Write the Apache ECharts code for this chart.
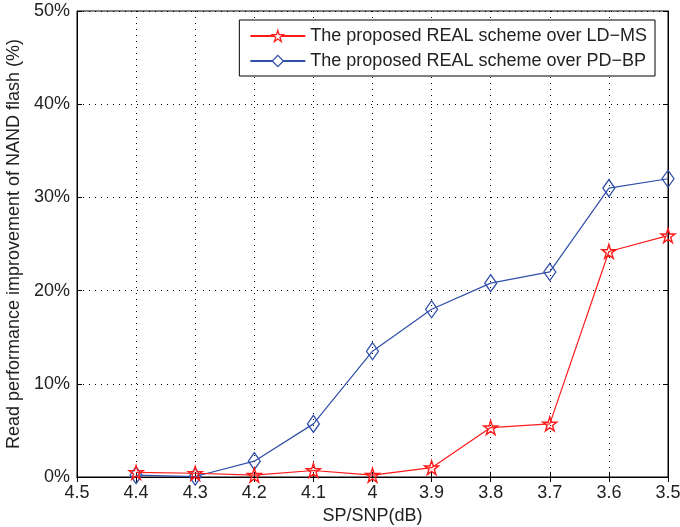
<!DOCTYPE html>
<html><head><meta charset="utf-8">
<script src="https://cdn.jsdelivr.net/npm/echarts@6/dist/echarts.min.js"></script>
<style>html,body{margin:0;padding:0;background:#fff}#c{width:680px;height:527px}</style>
</head><body><div id="c"></div>
<script>
var xValues = [4.4, 4.3, 4.2, 4.1, 4.0, 3.9, 3.8, 3.7, 3.6, 3.5];
var ldms = [0.5, 0.4, 0.2, 0.7, 0.2, 1.0, 5.3, 5.7, 24.2, 25.9];
var pdbp = [0.2, 0.05, 1.7, 5.7, 13.5, 18.0, 20.8, 22.0, 31.0, 32.0];
var seriesNames = ['The proposed REAL scheme over LD\u2212MS', 'The proposed REAL scheme over PD\u2212BP'];
var xTitle = 'SP/SNP(dB)';
var yTitle = 'Read performance improvement of NAND flash (%)';

var font = 'Liberation Sans, Arial, Helvetica, sans-serif';
var red = '#ff1a1a', blue = '#2f4fa8';
var star = 'path://M50,0 L61.8,36.2 L100,36.2 L69.1,58.8 L80.9,95.1 L50,72.7 L19.1,95.1 L30.9,58.8 L0,36.2 L38.2,36.2 Z';
function pairs(v){ return xValues.map(function(x,i){ return [x, v[i]]; }); }
var gridLine = {show:true, lineStyle:{color:'#000', type:[1,5], width:1}};
var tick = {show:true, inside:true, length:5, lineStyle:{color:'#000'}};
var chart = echarts.init(document.getElementById('c'), null, {renderer:'canvas'});
chart.setOption({
  animation:false,
  backgroundColor:'#fff',
  grid:{left:77, right:12, top:11, bottom:50, containLabel:false, outerBoundsMode:'none',
    show:true, borderColor:'#000', borderWidth:1, backgroundColor:'#fff'},
  xAxis:[{
    type:'value', inverse:true, min:3.5, max:4.5, interval:0.1,
    name:xTitle, nameLocation:'middle', nameGap:27,
    nameTextStyle:{fontFamily:font, fontSize:18, color:'#222'},
    axisLine:{show:true, lineStyle:{color:'#000', width:1}},
    axisTick:tick,
    axisLabel:{fontFamily:font, fontSize:18, color:'#222', margin:7,
      formatter:function(v){ return String(+(+v).toFixed(1)); }},
    splitLine:gridLine
  },{
    type:'value', inverse:true, min:3.5, max:4.5, interval:0.1, position:'top',
    axisLine:{show:true, lineStyle:{color:'#000'}},
    axisTick:tick, axisLabel:{show:false}, splitLine:{show:false}
  }],
  yAxis:[{
    type:'value', min:0, max:50, interval:10,
    name:yTitle, nameLocation:'middle', nameGap:45,
    nameTextStyle:{fontFamily:font, fontSize:18, color:'#222'},
    axisLine:{show:true, lineStyle:{color:'#000'}},
    axisTick:tick,
    axisLabel:{fontFamily:font, fontSize:18, color:'#222', margin:7, formatter:'{value}%'},
    splitLine:gridLine
  },{
    type:'value', min:0, max:50, interval:10, position:'right',
    axisLine:{show:true, lineStyle:{color:'#000'}},
    axisTick:tick, axisLabel:{show:false}, splitLine:{show:false}
  }],
  legend:{
    orient:'vertical', right:25, top:20,
    backgroundColor:'#fff', borderColor:'#000', borderWidth:1,
    padding:[7,8,6,10], itemGap:7, itemWidth:55, itemHeight:14,
    textStyle:{fontFamily:font, fontSize:18, color:'#222'},
    data:[
      {name:seriesNames[0], itemStyle:{color:'#fff', borderColor:red, borderWidth:1.3}},
      {name:seriesNames[1], itemStyle:{color:'#fff', borderColor:blue, borderWidth:1.3}}
    ]
  },
  series:[{
    name:seriesNames[0], type:'line', data:pairs(ldms),
    symbol:star, symbolSize:14, showAllSymbol:true,
    lineStyle:{color:red, width:1.2},
    itemStyle:{color:'rgba(255,255,255,0)', borderColor:red, borderWidth:1.4},
    z:3
  },{
    name:seriesNames[1], type:'line', data:pairs(pdbp),
    symbol:'diamond', symbolSize:[12,17], showAllSymbol:true,
    lineStyle:{color:blue, width:1.2},
    itemStyle:{color:'rgba(255,255,255,0)', borderColor:blue, borderWidth:1.3},
    z:2
  }]
});
</script></body></html>
